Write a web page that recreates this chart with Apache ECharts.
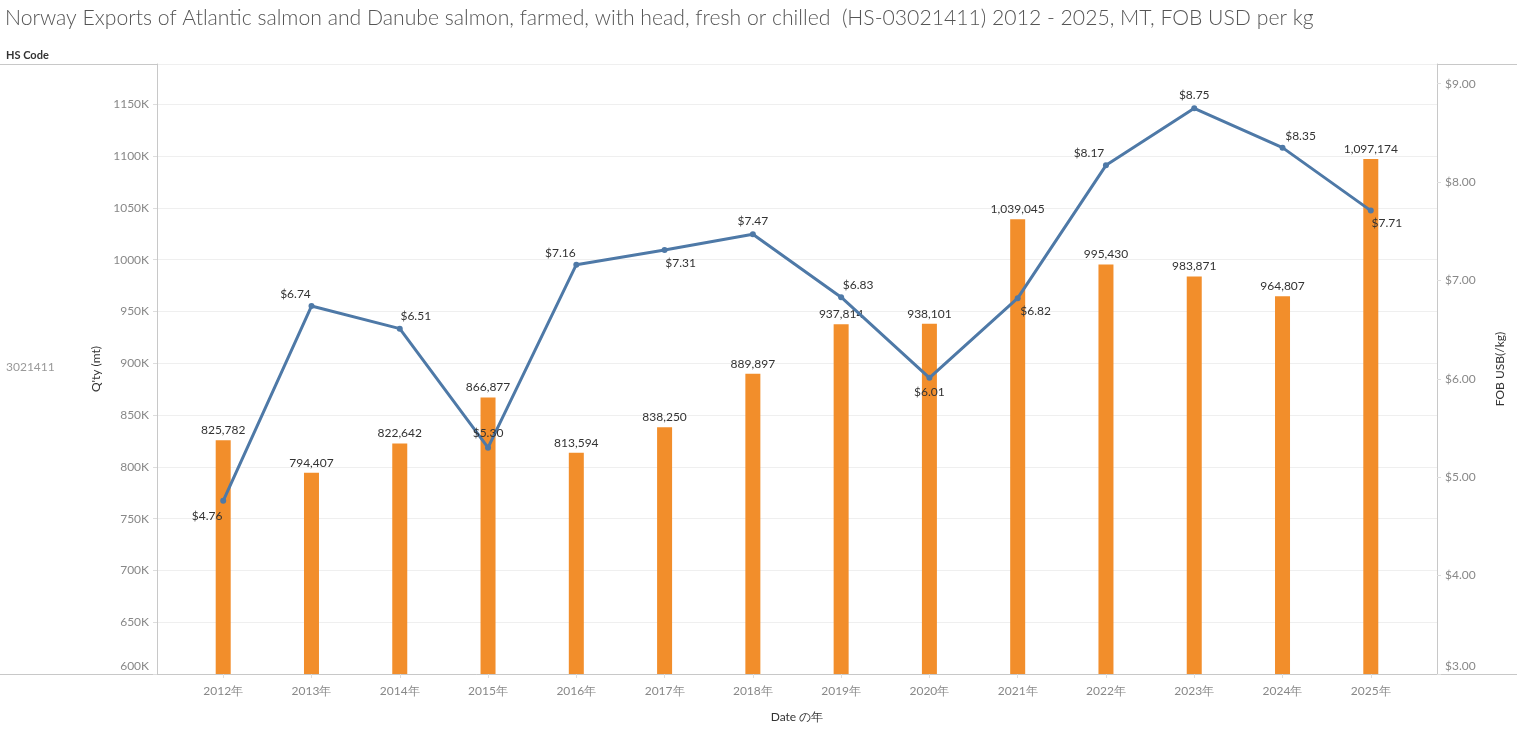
<!DOCTYPE html>
<html>
<head>
<meta charset="utf-8">
<script src="https://cdn.jsdelivr.net/npm/echarts@6/dist/echarts.min.js"></script>
<style>
html,body{margin:0;padding:0;background:#fff;}
#chart{width:1517px;height:732px;}
</style>
</head>
<body>
<div id="chart"></div>
<script>
// ---- data ----
const years = [2012, 2013, 2014, 2015, 2016, 2017, 2018, 2019, 2020, 2021, 2022, 2023, 2024, 2025];
const quantityMT = [825782, 794407, 822642, 866877, 813594, 838250, 889897, 937814, 938101, 1039045, 995430, 983871, 964807, 1097174];
const fobUsdPerKg = [4.76, 6.74, 6.51, 5.30, 7.16, 7.31, 7.47, 6.83, 6.01, 6.82, 8.17, 8.75, 8.35, 7.71];
const hsCode = '3021411';
const titleText = 'Norway Exports of Atlantic salmon and Danube salmon, farmed, with head, fresh or chilled  (HS-03021411) 2012 - 2025, MT, FOB USD per kg';

// ---- label placement style (per point) ----
const priceLabelOffset = [[-16,15],[-16,-12],[16,-13],[0,-15],[-16,-12],[16,13],[0,-13],[17,-12],[0,14],[18,13],[-17,-12],[0,-13],[18,-12],[16,13]];

const FONT = 'Lato, "Noto Sans", sans-serif';
const chart = echarts.init(document.getElementById('chart'));

const fmtThousands = v => v.toLocaleString('en-US');

chart.setOption({
  animation: false,
  textStyle: { fontFamily: FONT },
  title: [
    { text: titleText, left: 5, top: 8, padding: 0, textStyle: { fontFamily: FONT, fontSize: 21.2, fontWeight: 300, color: '#555' } },
    { text: 'HS Code', left: 6, top: 50, padding: 0, textStyle: { fontFamily: FONT, fontSize: 11, fontWeight: 'bold', color: '#333' } },
    { text: hsCode, left: 6, top: 361, padding: 0, textStyle: { fontFamily: FONT, fontSize: 12, fontWeight: 'normal', color: '#999' } }
  ],
  graphic: [
    { type: 'line', shape: { x1: 0, y1: 64.5, x2: 1517, y2: 64.5 }, style: { stroke: '#c8c8c8', lineWidth: 1 }, z: 0 },
    { type: 'line', shape: { x1: 0, y1: 674.5, x2: 1517, y2: 674.5 }, style: { stroke: '#c8c8c8', lineWidth: 1 }, z: 0 }
  ],
  grid: { left: 157, right: 80, top: 64, bottom: 58, containLabel: false },
  xAxis: {
    type: 'value',
    min: 2011.25,
    max: 2025.75,
    name: 'Date の年',
    nameLocation: 'middle',
    nameGap: 37,
    nameTextStyle: { fontFamily: FONT, fontSize: 12, color: '#333' },
    axisLine: { show: true, lineStyle: { color: '#c8c8c8' } },
    axisTick: { show: true, customValues: years, length: 4, lineStyle: { color: '#ddd' } },
    axisLabel: { customValues: years, formatter: v => v + '年', color: '#888', fontSize: 12, margin: 11 },
    splitLine: { show: false }
  },
  yAxis: [
    {
      type: 'value', position: 'left',
      min: 600000, max: 1189000, interval: 50000,
      name: "Q'ty (mt)", nameLocation: 'middle', nameGap: 54, nameRotate: 90,
      nameTextStyle: { fontFamily: FONT, fontSize: 12, color: '#333' },
      axisLine: { show: true, lineStyle: { color: '#c8c8c8' } },
      axisTick: { show: true, length: 4, lineStyle: { color: '#ddd' } },
      axisLabel: {
        showMaxLabel: false, color: '#888', fontSize: 12, margin: 8,
        formatter: v => v === 600000 ? '{lo|' + (v / 1000) + 'K}' : (v / 1000) + 'K',
        rich: { lo: { color: '#888', fontSize: 12, padding: [0, 0, 16, 0] } }
      },
      splitLine: { show: true, lineStyle: { color: '#efefef', width: 1 } }
    },
    {
      type: 'value', position: 'right',
      min: 3, max: 9.2, interval: 1,
      name: 'FOB USB(/kg)', nameLocation: 'middle', nameGap: 57, nameRotate: 90,
      nameTextStyle: { fontFamily: FONT, fontSize: 12, color: '#333' },
      axisLine: { show: true, lineStyle: { color: '#c8c8c8' } },
      axisTick: { show: true, length: 4, lineStyle: { color: '#ddd' } },
      axisLabel: {
        showMaxLabel: false, color: '#888', fontSize: 12, margin: 8,
        formatter: v => v === 3 ? '{lo|$' + v.toFixed(2) + '}' : '$' + v.toFixed(2),
        rich: { lo: { color: '#888', fontSize: 12, padding: [0, 0, 16, 0] } }
      },
      splitLine: { show: false }
    }
  ],
  series: [
    {
      name: "Q'ty (mt)",
      type: 'bar',
      yAxisIndex: 0,
      barWidth: 15,
      data: years.map((y, i) => [y, quantityMT[i]]),
      itemStyle: { color: '#f28e2b' },
      label: { show: true, position: 'top', distance: 4, color: '#333', fontSize: 12,
               formatter: p => fmtThousands(p.value[1]) },
      z: 2
    },
    {
      name: 'FOB USD/kg',
      type: 'line',
      yAxisIndex: 1,
      data: years.map((y, i) => ({
        value: [y, fobUsdPerKg[i]],
        label: { offset: priceLabelOffset[i] }
      })),
      lineStyle: { color: '#4e79a7', width: 3 },
      itemStyle: { color: '#4e79a7' },
      symbol: 'circle',
      symbolSize: 6,
      label: { show: true, position: 'inside', color: '#333', fontSize: 12,
               formatter: p => '$' + p.value[1].toFixed(2) },
      z: 5
    }
  ]
});
</script>
</body>
</html>
